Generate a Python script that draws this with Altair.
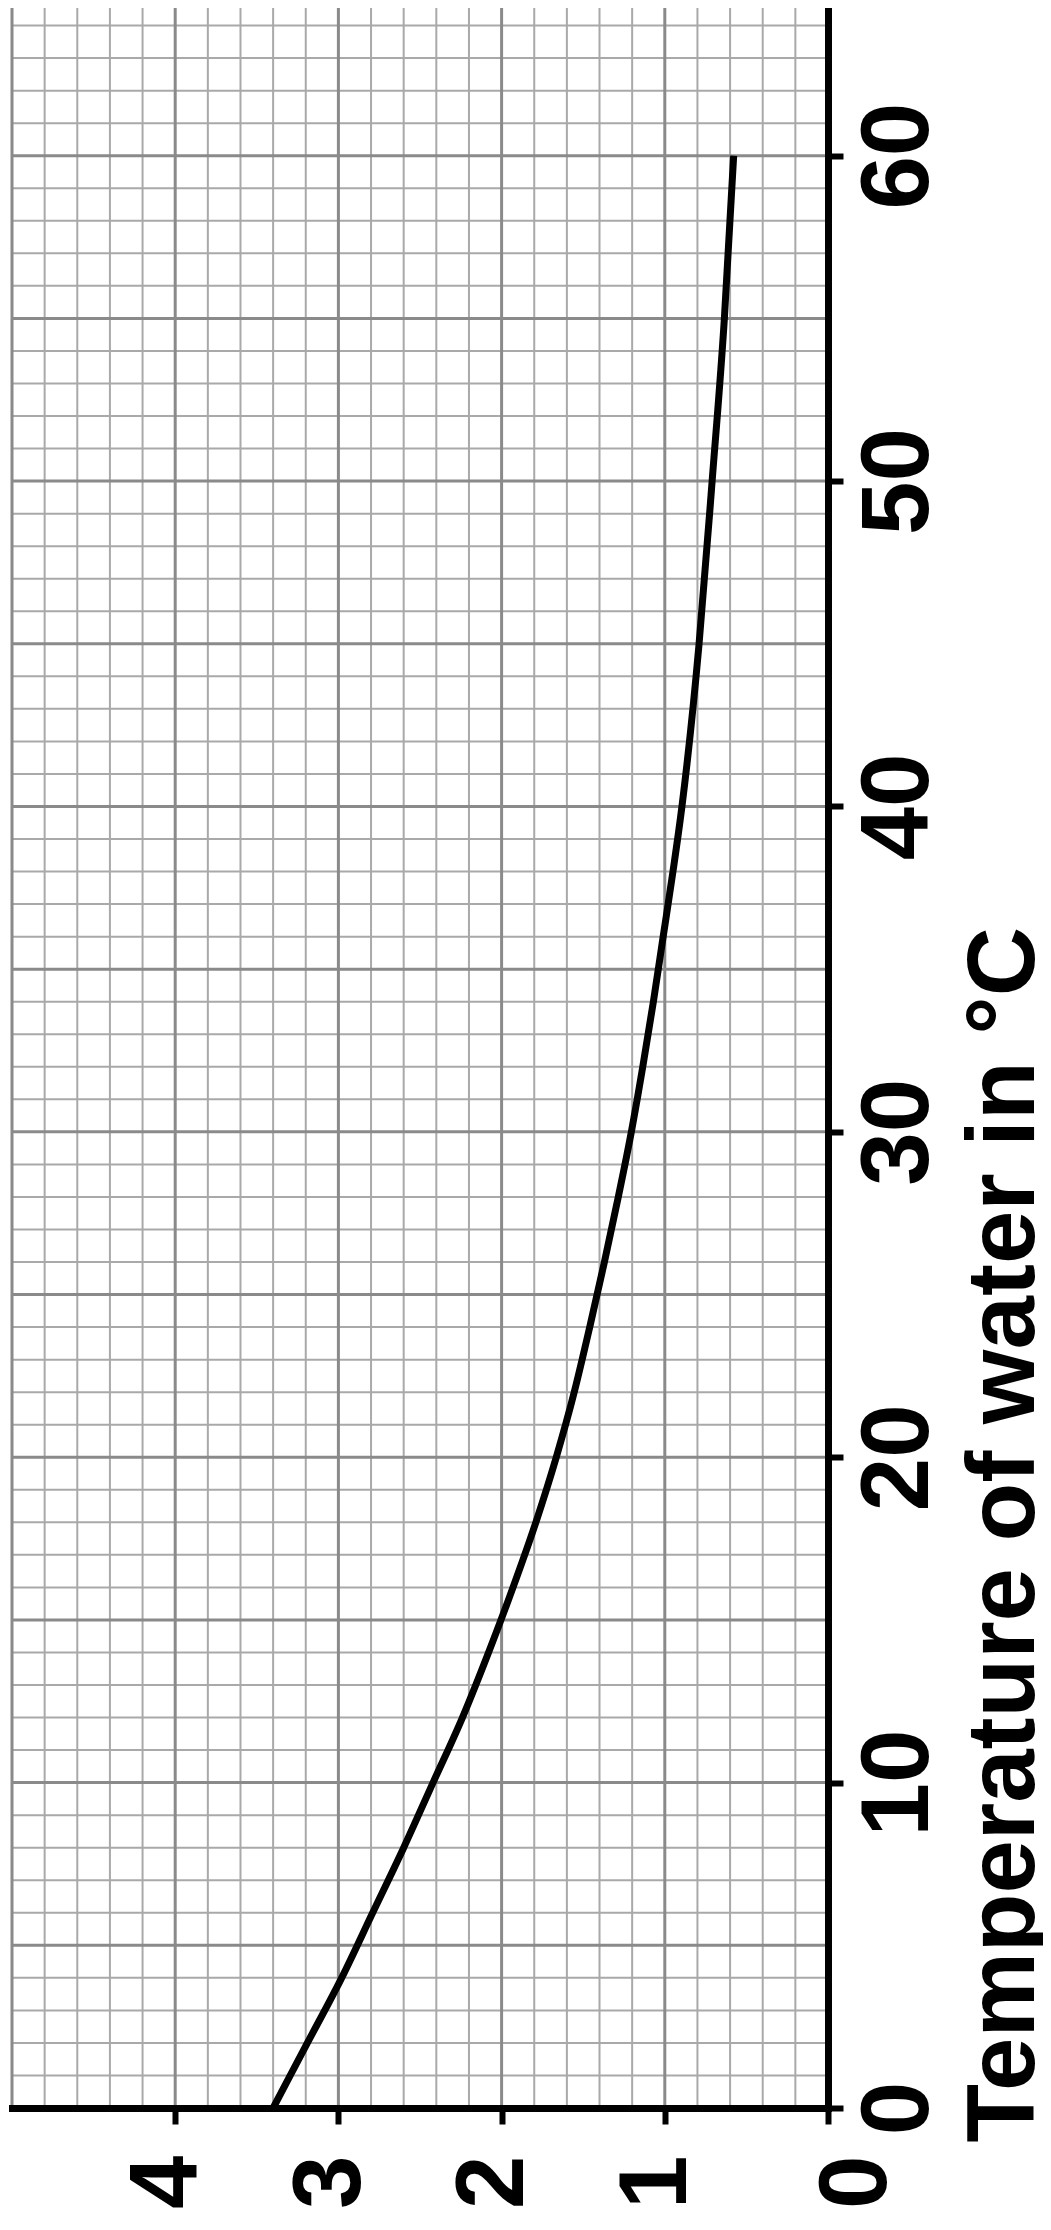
import altair as alt
import pandas as pd

# ---- data ----
temperature = [0, 2, 4, 6, 8, 10, 12, 14, 16, 18, 20, 22, 24, 26, 28, 30,
               32, 34, 36, 38, 40, 45, 50, 55, 60]
amount = [3.40, 3.19, 2.98, 2.79, 2.60, 2.42, 2.24, 2.08, 1.93, 1.79, 1.665,
          1.555, 1.46, 1.37, 1.285, 1.205, 1.135, 1.07, 1.01, 0.95, 0.895,
          0.79, 0.71, 0.635, 0.578]

value_ticks = [0, 1, 2, 3, 4]
temp_ticks = [0, 10, 20, 30, 40, 50, 60]

major_value_lines = [1, 2, 3, 4, 5]
minor_value_lines = [round(i * 0.2, 1) for i in range(1, 25) if i % 5 != 0]
major_temp_lines = [5, 10, 15, 20, 25, 30, 35, 40, 45, 50, 55, 60]
minor_temp_lines = [t for t in range(1, 65) if t % 5 != 0]

X_DOMAIN = [0, 5]
Y_DOMAIN = [0, 64.54]

FONT = "Liberation Sans"

xscale = alt.Scale(domain=X_DOMAIN, reverse=True, nice=False, zero=False)
yscale = alt.Scale(domain=Y_DOMAIN, nice=False, zero=False)

curve_df = pd.DataFrame({"temp": temperature, "amount": amount})

minor_v = alt.Chart(pd.DataFrame({"amount": minor_value_lines})).mark_rule(
    color="#a9a9a9", strokeWidth=2
).encode(x=alt.X("amount:Q", scale=xscale))

minor_t = alt.Chart(pd.DataFrame({"temp": minor_temp_lines})).mark_rule(
    color="#a9a9a9", strokeWidth=2
).encode(y=alt.Y("temp:Q", scale=yscale))

major_v = alt.Chart(pd.DataFrame({"amount": major_value_lines})).mark_rule(
    color="#8a8a8a", strokeWidth=3
).encode(x=alt.X("amount:Q", scale=xscale))

major_t = alt.Chart(pd.DataFrame({"temp": major_temp_lines})).mark_rule(
    color="#8a8a8a", strokeWidth=3
).encode(y=alt.Y("temp:Q", scale=yscale))

line = alt.Chart(curve_df).mark_line(
    color="black", strokeWidth=7, interpolate="monotone"
).encode(
    x=alt.X(
        "amount:Q",
        scale=xscale,
        axis=alt.Axis(
            orient="bottom",
            values=value_ticks,
            format="d",
            title=None,
            grid=False,
            domainColor="black",
            domainWidth=7,
            domainCap="square",
            tickColor="black",
            tickWidth=6,
            tickSize=16,
            labelAngle=270,
            labelAlign="right",
            labelBaseline={"condition": {"test": "datum.value === 0", "value": "line-top"},
                           "value": "middle"},
            labelLineHeight=74,
            labelPadding=31,
            labelOffset=-8,
            labelFont=FONT,
            labelFontSize=96,
            labelFontWeight="bold",
            labelColor="black",
            labelFlush=False,
            labelOverlap=False,
            zindex=2,
        ),
    ),
    y=alt.Y(
        "temp:Q",
        scale=yscale,
        axis=alt.Axis(
            orient="right",
            values=temp_ticks,
            format="d",
            title="Temperature of water in °C",
            grid=False,
            domainColor="black",
            domainWidth=7,
            domainCap="square",
            tickColor="black",
            tickWidth=6,
            tickSize=15,
            labelAngle=270,
            labelAlign="center",
            labelBaseline="top",
            labelPadding=8,
            labelFont=FONT,
            labelFontSize=96,
            labelFontWeight="bold",
            labelColor="black",
            labelFlush=False,
            labelOverlap=False,
            titleFont=FONT,
            titleFontSize=96,
            titleFontWeight="bold",
            titleColor="black",
            titleAngle=270,
            titleAlign="left",
            titleBaseline="alphabetic",
            titleX=205,
            titleY=2134,
            zindex=2,
        ),
    ),
    order=alt.Order("temp:Q"),
)

chart = alt.layer(minor_v, minor_t, major_v, major_t, line).properties(
    width=816,
    height=2100,
    padding={"left": 4, "top": 0, "right": 215, "bottom": 112},
    autosize=alt.AutoSizeParams(type="none"),
    background="white",
).configure_view(stroke=None)

chart.save("out.html", embed_options={"renderer": "svg", "actions": False})
